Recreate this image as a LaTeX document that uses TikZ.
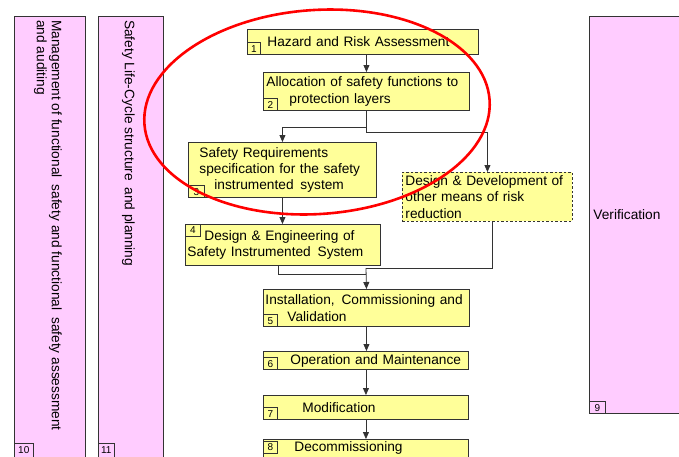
\documentclass[tikz,border=0pt]{standalone}
\usepackage{fontspec}
\setmainfont{Liberation Sans}
\usetikzlibrary{arrows.meta,calc}
\definecolor{stageyellow}{HTML}{FFFF99}
\definecolor{framepink}{HTML}{FFCCFF}
\definecolor{edgegray}{HTML}{333333}
\tikzset{
    stage/.style={rectangle,draw=edgegray,line width=0.9pt,fill=stageyellow,anchor=north west,inner ysep=0,inner xsep=2pt,align=left,font=\fontsize{13.7}{16.3}\selectfont},
    dstage/.style={stage,dash pattern=on 2.5pt off 2pt},
    frame/.style={rectangle,draw=edgegray,line width=0.9pt,fill=framepink,anchor=north west,inner sep=0},
    vtext/.style={rotate=-90,anchor=north west,inner sep=0,align=left,font=\fontsize{13.7}{15}\selectfont},
    num/.style={rectangle,draw=edgegray,line width=0.6pt,inner sep=0,minimum height=12pt,font=\fontsize{10}{10}\selectfont},
    flow/.style={draw=edgegray,line width=0.8pt},
    arr/.style={flow,-{Triangle[length=7pt,width=6pt]}}
}
\begin{document}
\begin{tikzpicture}[x=1pt,y=-1pt]
    \clip (0,0) rectangle (679,456);
    \node[frame,minimum width=71pt,minimum height=460pt] (f10) at (14,16) {};
    \node[frame,minimum width=65pt,minimum height=460pt] (f11) at (98,16) {};
    \node[frame,minimum width=120pt,minimum height=397pt,inner xsep=4pt,text width=112pt,align=left,font=\fontsize{13.7}{16}\selectfont] (f9) at (589,16) {Verification};
    \node[vtext] (t10) at (62,20) {Management of functional\enspace safety and functional\enspace safety assessment\\and auditing};
    \node[vtext] (t11) at (135,20) {Safety Life-Cycle structure\enspace and planning};
    \node[num,anchor=north west,minimum width=19pt,minimum height=14pt] (n10) at (14,443) {10};
    \node[num,anchor=north west,minimum width=16pt,minimum height=14pt] (n11) at (98,443) {11};
    \node[num,anchor=south west,minimum width=16pt] (n9) at (f9.south west) {9};

    \node[stage,minimum width=231pt,minimum height=25pt,text width=227pt] (b1) at (247,29) {\hspace*{18pt}Hazard and Risk Assessment};
    \node[stage,minimum width=206pt,minimum height=38pt,inner xsep=3pt,text width=200pt] (b2) at (263,72) {Allocation of safety functions to\\\hspace*{23pt}protection layers};
    \node[stage,minimum width=188pt,minimum height=55pt,inner xsep=11pt,text width=166pt] (b3) at (188,142) {Safety Requirements\\specification for the safety\\\hspace*{15pt}instrumented\enspace system};
    \node[stage,dstage,minimum width=170pt,minimum height=49pt,inner xsep=3pt,text width=164pt] (dd) at (402,172) {Design \& Development of\\other means of risk\\reduction};
    \node[stage,minimum width=195pt,minimum height=41pt,text width=191pt] (b4) at (185,224) {\hspace*{17pt}Design \& Engineering of\\Safety Instrumented\enspace System};
    \node[stage,minimum width=206pt,minimum height=37pt,text width=202pt] (b5) at (263,289) {Installation,\enspace Commissioning and\\\hspace*{22pt}Validation};
    \node[stage,minimum width=205pt,minimum height=18pt,text width=201pt] (b6) at (263,351) {\hspace*{25pt}Operation and Maintenance};
    \node[stage,minimum width=205pt,minimum height=24pt,text width=201pt] (b7) at (263,395) {\hspace*{37pt}Modification};
    \node[stage,minimum width=205pt,text width=201pt,text height=12pt,text depth=18pt] (b8) at (263,439) {\hspace*{29pt}Decommissioning};

    \node[num,anchor=south west,minimum width=13pt] (n1) at (b1.south west) {1};
    \node[num,anchor=south west,minimum width=14pt] (n2) at (b2.south west) {2};
    \node[num,anchor=south west,minimum width=16pt] (n3) at (b3.south west) {3};
    \node[num,anchor=north west,minimum width=15pt] (n4) at (b4.north west) {4};
    \node[num,anchor=south west,minimum width=14pt] (n5) at (b5.south west) {5};
    \node[num,anchor=south west,minimum width=14pt] (n6) at (b6.south west) {6};
    \node[num,anchor=south west,minimum width=14pt] (n7) at (b7.south west) {7};
    \node[num,anchor=north west,minimum width=14pt] (n8) at ($(b8.north west)+(0,2)$) {8};

    \coordinate (joinA) at (366,268);
    \coordinate (joinB) at (366,274);
    \draw[arr] (b1.south -| b2.north) -- (b2.north);
    \draw[arr] (b2.south) -- ++(0,16) -| (b3.north);
    \draw[arr] (b2.south) -- ++(0,21) -| (dd.north);
    \draw[arr] (b3.south) -- (b3.south |- b4.north);
    \draw[flow] ($(dd.south)+(5,0)$) |- (joinA);
    \draw[flow] ($(b4.south)+(-5,0)$) |- (joinB);
    \draw[arr] (joinA) -- (b5.north);
    \draw[arr] (b5.south) -- (b5.south |- b6.north);
    \draw[arr] (b6.south) -- (b6.south |- b7.north);
    \draw[arr] (b7.south) -- (b7.south |- b8.north);

    \draw[red,line width=2.6pt,rotate around={4:(317,112)}] (317,112) ellipse [x radius=173, y radius=102];
\end{tikzpicture}
\end{document}
